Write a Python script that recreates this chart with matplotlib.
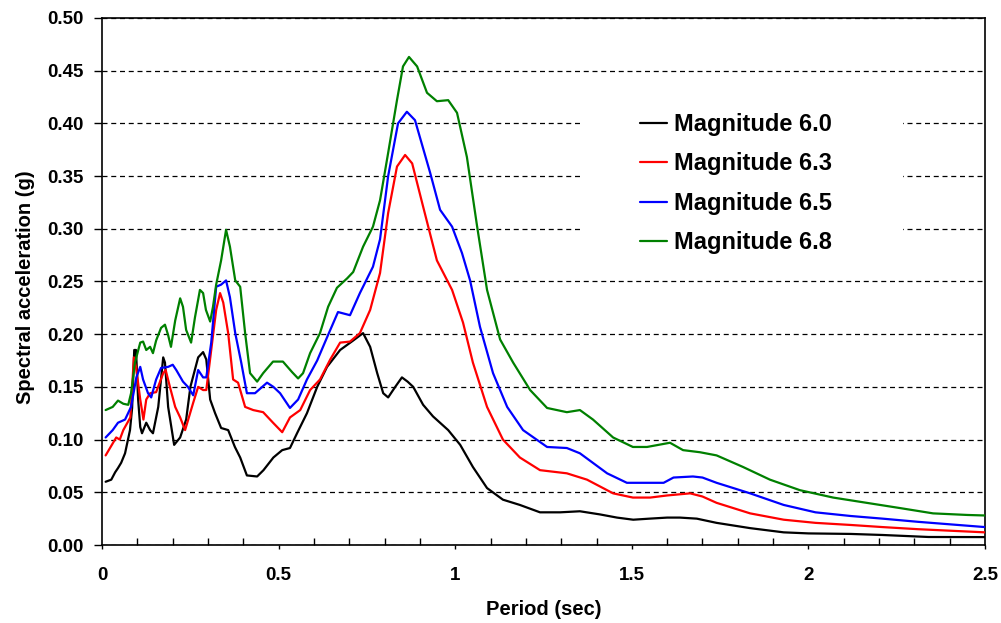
import matplotlib
matplotlib.use("Agg")
import matplotlib.pyplot as plt
from matplotlib.patches import Rectangle
from matplotlib.ticker import MultipleLocator, FormatStrFormatter

plt.rcParams['font.family'] = ['Liberation Sans', 'DejaVu Sans']
plt.rcParams['font.weight'] = 'bold'

# Espectros de respuesta por magnitud (periodo en s, aceleracion espectral en g)
period_m60 = [0.01, 0.026, 0.037, 0.045, 0.054, 0.065, 0.079, 0.085, 0.091, 0.096, 0.102, 0.108,
              0.113, 0.125, 0.136, 0.144, 0.159, 0.173, 0.178, 0.187, 0.204, 0.221, 0.238, 0.25,
              0.272, 0.286, 0.295, 0.306, 0.32, 0.337, 0.357, 0.376, 0.391, 0.41, 0.439, 0.457,
              0.485, 0.51, 0.532, 0.552, 0.58, 0.609, 0.637, 0.674, 0.711, 0.739, 0.759, 0.779,
              0.796, 0.81, 0.83, 0.849, 0.865, 0.881, 0.909, 0.937, 0.98, 1.014, 1.05, 1.09,
              1.135, 1.183, 1.24, 1.297, 1.353, 1.41, 1.458, 1.504, 1.55, 1.6, 1.636, 1.684,
              1.74, 1.835, 1.93, 2.0, 2.12, 2.21, 2.34, 2.5]
sa_m60 = [0.060, 0.062, 0.069, 0.073, 0.078, 0.087, 0.109, 0.13, 0.185, 0.185, 0.138, 0.112,
          0.106, 0.116, 0.109, 0.106, 0.131, 0.178, 0.173, 0.131, 0.095, 0.102, 0.119, 0.15,
          0.178, 0.183, 0.176, 0.138, 0.125, 0.111, 0.109, 0.093, 0.083, 0.066, 0.065, 0.071,
          0.083, 0.09, 0.092, 0.106, 0.125, 0.15, 0.169, 0.185, 0.194, 0.201, 0.188, 0.163,
          0.144, 0.14, 0.15, 0.159, 0.155, 0.150, 0.133, 0.122, 0.109, 0.095, 0.074, 0.054,
          0.043, 0.038, 0.031, 0.031, 0.032, 0.029, 0.026, 0.024, 0.025, 0.026, 0.026, 0.025,
          0.021, 0.016, 0.012, 0.011, 0.0105, 0.0095, 0.0076, 0.0075]

period_m63 = [0.01, 0.04, 0.05, 0.06, 0.08, 0.09, 0.096, 0.108, 0.117, 0.125, 0.136, 0.153,
              0.173, 0.18, 0.192, 0.207, 0.221, 0.235, 0.258, 0.272, 0.286, 0.295, 0.309, 0.323,
              0.334, 0.343, 0.357, 0.371, 0.385, 0.405, 0.428, 0.456, 0.484, 0.51, 0.532, 0.561,
              0.589, 0.617, 0.646, 0.674, 0.702, 0.73, 0.759, 0.787, 0.81, 0.835, 0.858, 0.878,
              0.909, 0.948, 0.991, 1.022, 1.05, 1.09, 1.135, 1.183, 1.24, 1.316, 1.373, 1.447,
              1.503, 1.552, 1.6, 1.665, 1.7, 1.74, 1.835, 1.93, 2.02, 2.12, 2.21, 2.31, 2.5]
sa_m63 = [0.085, 0.102, 0.1, 0.109, 0.121, 0.178, 0.169, 0.138, 0.119, 0.138, 0.144, 0.145,
          0.163, 0.166, 0.15, 0.131, 0.121, 0.109, 0.135, 0.15, 0.147, 0.147, 0.185, 0.223,
          0.239, 0.23, 0.201, 0.157, 0.154, 0.131, 0.128, 0.126, 0.116, 0.107, 0.121, 0.128,
          0.147, 0.157, 0.176, 0.192, 0.193, 0.201, 0.223, 0.258, 0.315, 0.359, 0.37, 0.362,
          0.321, 0.27, 0.242, 0.211, 0.173, 0.131, 0.1, 0.083, 0.071, 0.068, 0.062, 0.049,
          0.045, 0.045, 0.047, 0.049, 0.046, 0.04, 0.030, 0.024, 0.021, 0.019, 0.017, 0.015, 0.012]

period_m65 = [0.01, 0.03, 0.045, 0.065, 0.082, 0.097, 0.108, 0.116, 0.13, 0.139, 0.153, 0.167,
              0.187, 0.2, 0.21, 0.229, 0.243, 0.258, 0.272, 0.286, 0.295, 0.309, 0.323, 0.337,
              0.351, 0.362, 0.377, 0.394, 0.41, 0.433, 0.467, 0.485, 0.504, 0.532, 0.555, 0.58,
              0.609, 0.637, 0.668, 0.702, 0.73, 0.767, 0.787, 0.81, 0.838, 0.863, 0.886, 0.929,
              0.957, 0.991, 1.019, 1.042, 1.07, 1.107, 1.147, 1.192, 1.26, 1.316, 1.353, 1.43,
              1.486, 1.543, 1.59, 1.618, 1.673, 1.7, 1.74, 1.835, 1.93, 2.02, 2.12, 2.21, 2.31, 2.5]
sa_m65 = [0.102, 0.109, 0.116, 0.119, 0.131, 0.159, 0.169, 0.157, 0.144, 0.14, 0.157, 0.168,
          0.169, 0.171, 0.166, 0.155, 0.15, 0.142, 0.166, 0.159, 0.159, 0.192, 0.245, 0.247,
          0.251, 0.235, 0.201, 0.173, 0.144, 0.144, 0.154, 0.15, 0.144, 0.13, 0.138, 0.157,
          0.175, 0.197, 0.221, 0.218, 0.239, 0.264, 0.29, 0.35, 0.40, 0.411, 0.403, 0.353,
          0.318, 0.302, 0.277, 0.251, 0.207, 0.163, 0.131, 0.109, 0.093, 0.092, 0.087, 0.068,
          0.059, 0.059, 0.059, 0.064, 0.065, 0.064, 0.059, 0.049, 0.038, 0.031, 0.0275, 0.025,
          0.022, 0.017]

period_m68 = [0.01, 0.03, 0.045, 0.06, 0.074, 0.082, 0.093, 0.108, 0.116, 0.125, 0.136, 0.144,
              0.153, 0.167, 0.178, 0.187, 0.195, 0.207, 0.221, 0.229, 0.238, 0.252, 0.263, 0.277,
              0.286, 0.294, 0.306, 0.314, 0.323, 0.337, 0.351, 0.362, 0.377, 0.391, 0.405, 0.419,
              0.439, 0.456, 0.484, 0.512, 0.538, 0.555, 0.569, 0.589, 0.617, 0.64, 0.665, 0.694,
              0.711, 0.739, 0.767, 0.787, 0.81, 0.835, 0.852, 0.869, 0.892, 0.92, 0.948, 0.98,
              1.005, 1.033, 1.062, 1.09, 1.127, 1.164, 1.212, 1.26, 1.316, 1.353, 1.39, 1.447,
              1.503, 1.543, 1.608, 1.645, 1.693, 1.74, 1.815, 1.891, 1.976, 2.07, 2.165, 2.26,
              2.353, 2.45, 2.5]
sa_m68 = [0.128, 0.131, 0.137, 0.134, 0.133, 0.144, 0.173, 0.192, 0.193, 0.185, 0.188, 0.182,
          0.194, 0.206, 0.209, 0.199, 0.188, 0.213, 0.234, 0.226, 0.204, 0.192, 0.216, 0.242,
          0.239, 0.223, 0.212, 0.226, 0.247, 0.27, 0.299, 0.283, 0.251, 0.245, 0.201, 0.163,
          0.155, 0.163, 0.174, 0.174, 0.164, 0.158, 0.163, 0.182, 0.201, 0.226, 0.244, 0.253,
          0.259, 0.283, 0.302, 0.327, 0.372, 0.422, 0.454, 0.463, 0.454, 0.429, 0.421, 0.422,
          0.41, 0.368, 0.302, 0.242, 0.195, 0.173, 0.147, 0.13, 0.126, 0.128, 0.119, 0.102,
          0.093, 0.093, 0.097, 0.09, 0.088, 0.085, 0.074, 0.062, 0.052, 0.045, 0.040, 0.035,
          0.030, 0.0285, 0.028]

labels = ["Magnitude 6.0", "Magnitude 6.3", "Magnitude 6.5", "Magnitude 6.8"]
colors = ["#000000", "#ff0000", "#0000ff", "#008000"]

fig = plt.figure(figsize=(10.01, 6.23), dpi=100)
ax = fig.add_axes([0.102, 0.1252, 0.882, 0.846])

series = [(period_m60, sa_m60), (period_m63, sa_m63), (period_m65, sa_m65), (period_m68, sa_m68)]
for (px, py), lab, col in zip(series, labels, colors):
    ax.plot(px, py, color=col, lw=1.6, label=lab, zorder=3,
            solid_joinstyle='round', solid_capstyle='round')

ax.set_xlim(0, 2.5)
ax.set_ylim(0, 0.5)

# Rejilla horizontal discontinua
ax.yaxis.set_major_locator(MultipleLocator(0.05))
ax.yaxis.set_major_formatter(FormatStrFormatter('%.2f'))
ax.grid(axis='y', color='black', linestyle=(0, (4, 3)), linewidth=0.9)
ax.set_axisbelow(True)

ax.xaxis.set_minor_locator(MultipleLocator(0.1))
ax.set_xticks([0, 0.5, 1, 1.5, 2, 2.5])
ax.set_xticklabels(["0", "0.5", "1", "1.5", "2", "2.5"])

ax.tick_params(axis='y', direction='out', length=6, width=1, pad=7, labelsize=13.5)
ax.tick_params(axis='x', which='major', direction='out', length=3, width=1, pad=13, labelsize=13.5)
ax.tick_params(axis='x', which='minor', direction='in', length=5, width=1)

for sp in ax.spines.values():
    sp.set_linewidth(1.2)

ax.set_xlabel("Period (sec)", fontsize=14.5, fontweight='bold')
ax.set_ylabel("Spectral acceleration (g)", fontsize=14.5, fontweight='bold')
ax.xaxis.set_label_coords(0.5, -0.105)
ax.yaxis.set_label_coords(-0.076, 0.49)

# Fondo blanco de la leyenda, tapa la rejilla
ax.add_patch(Rectangle((0.541, 0.531), 0.366, 0.332, transform=ax.transAxes,
                       facecolor='white', edgecolor='none', zorder=1))

leg = ax.legend(loc='upper left', bbox_to_anchor=(0.609, 0.82), frameon=False,
                fontsize=17, borderpad=0, handlelength=1.15, handletextpad=0.3,
                labelspacing=0.7, borderaxespad=0)
for t in leg.get_texts():
    t.set_fontweight('bold')

fig.savefig("out.png", dpi=100)
